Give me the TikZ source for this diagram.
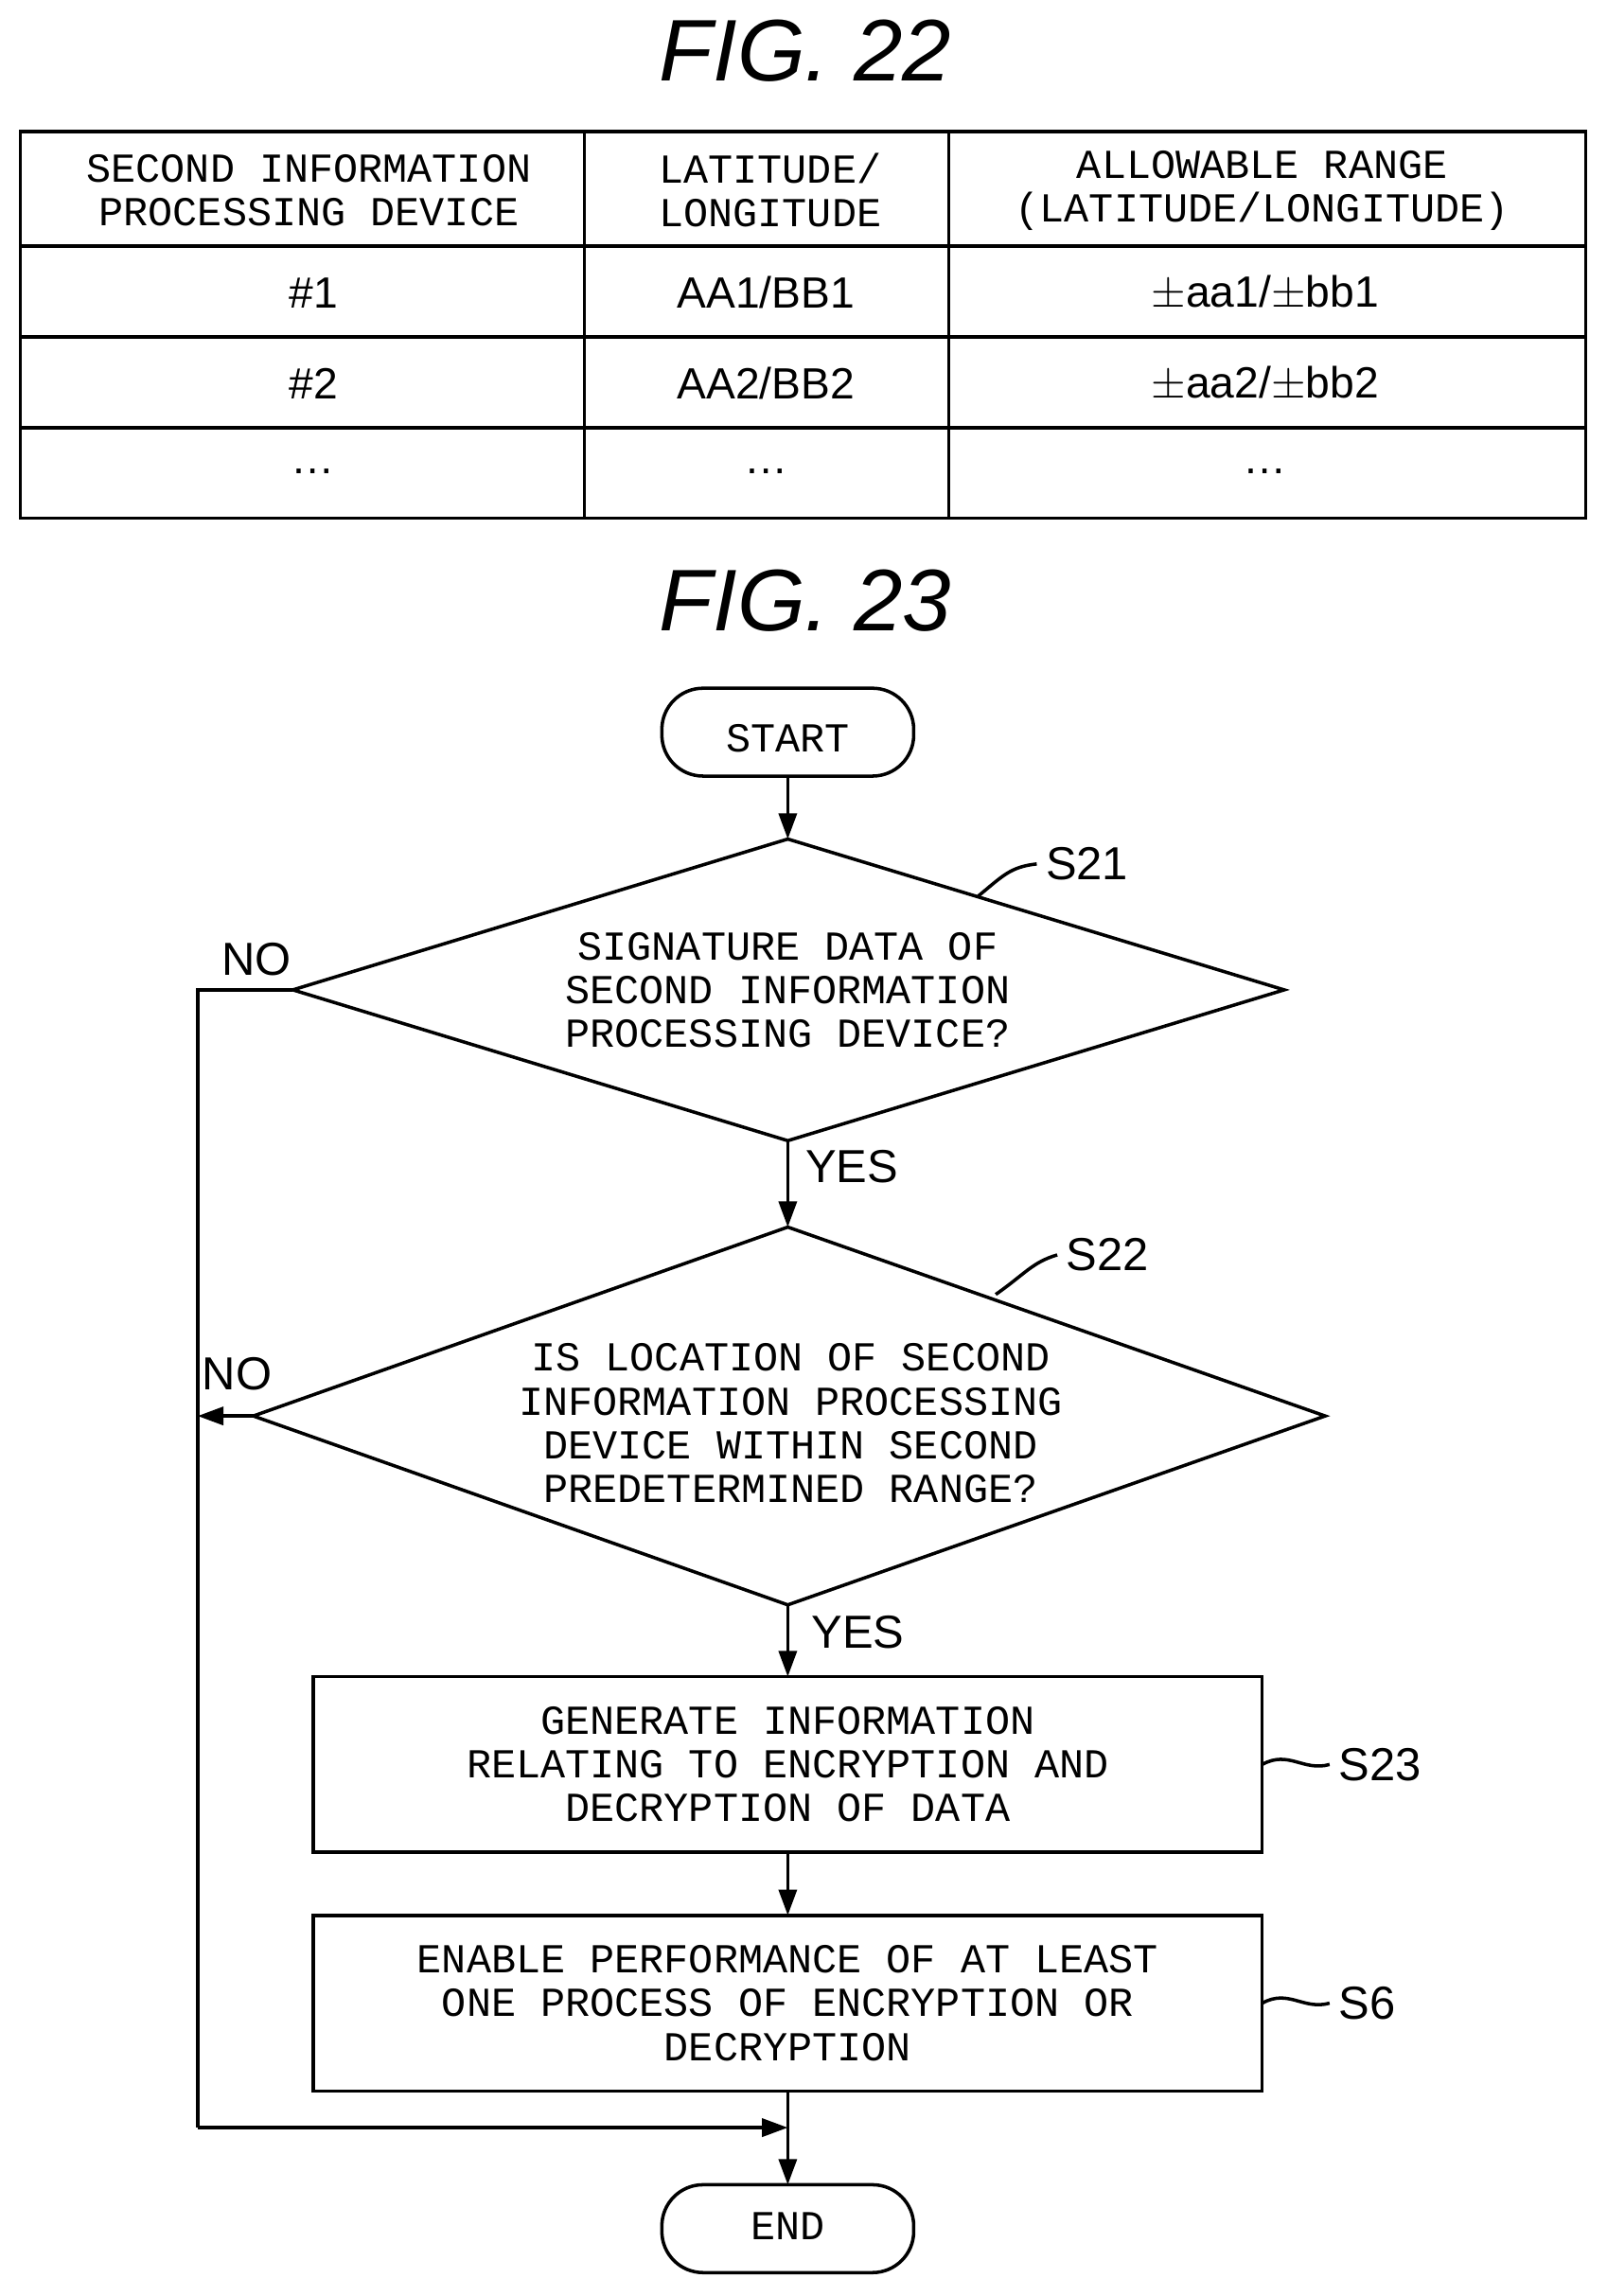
\documentclass[tikz,border=0pt]{standalone}
\usepackage{fontspec}
\setmainfont{Liberation Sans}
\newfontfamily\monofam{Liberation Mono}
\usetikzlibrary{shapes.geometric,arrows.meta}
\tikzset{
  line/.style={line width=1.3pt},
  flow/.style={line, -{Triangle[length=10pt,width=7pt]}},
  boxtext/.style={font=\monofam\fontsize{16}{17}\selectfont, align=center},
  lbl/.style={font=\fontsize{18}{20}\selectfont},
  fig/.style={font=\itshape\fontsize{34}{38}\selectfont},
  cell/.style={font=\fontsize{17}{20}\selectfont},
  term/.style={line, rounded corners=16pt}
}
\begin{document}
\begin{tikzpicture}[x=0.02cm,y=-0.02cm]
\useasboundingbox (0,0) rectangle (1097,1568);
% FIG. 22 table
\node[fig] (fig22) at (550,35) {FIG. 22};
\draw[line] (14,90) rectangle (1083,354);
\foreach \x in {399,648} \draw[line] (\x,90) -- (\x,354);
\foreach \y in {168,230,292} \draw[line] (14,\y) -- (1083,\y);
\node[boxtext] (h1) at (211,130) {SECOND INFORMATION\\PROCESSING DEVICE};
\node[boxtext] (h2) at (526,130) {LATITUDE/\\LONGITUDE};
\node[boxtext] (h3) at (862,130) {ALLOWABLE RANGE\\(LATITUDE/LONGITUDE)};
\node[cell] (r1a) at (214,200) {\#1};
\node[cell] (r1b) at (523,200) {AA1/BB1};
\node[cell] (r1c) at (864,200) {$\pm$aa1/$\pm$bb1};
\node[cell] (r2a) at (214,262) {\#2};
\node[cell] (r2b) at (523,262) {AA2/BB2};
\node[cell] (r2c) at (864,262) {$\pm$aa2/$\pm$bb2};
\node[cell] (r3a) at (214,322) {\dots};
\node[cell] (r3b) at (523,322) {\dots};
\node[cell] (r3c) at (864,322) {\dots};
% FIG. 23 flowchart
\node[fig] (fig23) at (550,410) {FIG. 23};
\draw[term] (452,470) rectangle (624,530);
\node[boxtext] (start) at (538,504) {START};
\coordinate (startb) at (538,530);
\draw[line] (538,573) -- (877,676) -- (538,779) -- (200,676) -- cycle;
\coordinate (d1t) at (538,573); \coordinate (d1b) at (538,779); \coordinate (d1l) at (200,676);
\node[boxtext] (d1) at (538,676) {SIGNATURE DATA OF\\SECOND INFORMATION\\PROCESSING DEVICE?};
\draw[line] (538,838) -- (905,967) -- (538,1096) -- (173,967) -- cycle;
\coordinate (d2t) at (538,838); \coordinate (d2b) at (538,1096); \coordinate (d2l) at (173,967);
\node[boxtext] (d2) at (540,972) {IS LOCATION OF SECOND\\INFORMATION PROCESSING\\DEVICE WITHIN SECOND\\PREDETERMINED RANGE?};
\draw[line] (214,1145) rectangle (862,1265);
\node[boxtext] (s23) at (538,1205) {GENERATE INFORMATION\\RELATING TO ENCRYPTION AND\\DECRYPTION OF DATA};
\draw[line] (214,1308) rectangle (862,1428);
\node[boxtext] (s6) at (538,1368) {ENABLE PERFORMANCE OF AT LEAST\\ONE PROCESS OF ENCRYPTION OR\\DECRYPTION};
\draw[term] (452,1492) rectangle (624,1552);
\node[boxtext] (end) at (538,1520) {END};
\coordinate (merge) at (538,1453);
\coordinate (left) at (135,967);
% connectors
\draw[flow] (startb) -- (d1t);
\draw[flow] (d1b) -- (d2t);
\draw[flow] (d2b) -- (538,1145);
\draw[flow] (538,1265) -- (538,1308);
\draw[flow] (538,1428) -- (538,1492);
\draw[line] (d1l) -- (135,676) -- (135,1453);
\draw[flow] (135,1453) -- (merge);
\draw[flow] (d2l) -- (left);
% labels
\node[lbl] (no1) at (175,655) {NO};
\node[lbl] (no2) at (162,938) {NO};
\node[lbl, anchor=west] (yes1) at (544,797) {YES};
\node[lbl, anchor=west] (yes2) at (548,1115) {YES};
\node[lbl, anchor=west] (l21) at (708,590) {S21};
\draw[line] (668,612) .. controls (685,598) and (690,592) .. (l21.west);
\node[lbl, anchor=west] (l22) at (722,857) {S22};
\draw[line] (680,884) .. controls (700,870) and (705,862) .. (l22.west);
\node[lbl, anchor=west] (l23) at (908,1205) {S23};
\draw[line] (862,1205) .. controls (880,1195) and (890,1210) .. (l23.west);
\node[lbl, anchor=west] (l6) at (908,1368) {S6};
\draw[line] (862,1368) .. controls (880,1358) and (890,1373) .. (l6.west);
\end{tikzpicture}
\end{document}
